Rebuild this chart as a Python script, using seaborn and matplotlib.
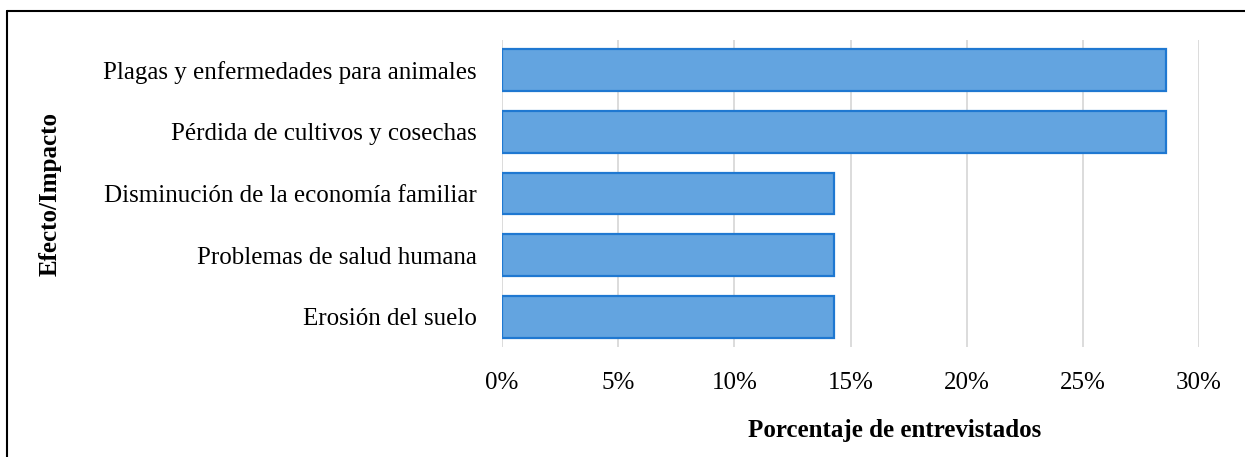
import matplotlib
matplotlib.use("Agg")
import matplotlib.pyplot as plt
import matplotlib.ticker as mticker
from matplotlib.lines import Line2D
import seaborn as sns
import pandas as pd

categories = [
    "Plagas y enfermedades para animales",
    "Pérdida de cultivos y cosechas",
    "Disminución de la economía familiar",
    "Problemas de salud humana",
    "Erosión del suelo",
]
percentages = [28.57, 28.57, 14.29, 14.29, 14.29]
x_ticks = [0, 5, 10, 15, 20, 25, 30]

df = pd.DataFrame({"Efecto": categories, "Porcentaje": percentages})

sns.set_theme(style="white")
plt.rcParams["font.family"] = ["Liberation Serif", "DejaVu Serif"]

fig = plt.figure(figsize=(12.45, 4.57), dpi=100)
W, H = 1245, 457
ax = fig.add_axes([502 / W, 1 - 347 / H, (1199 - 502) / W, (347 - 40) / H])

sns.barplot(data=df, x="Porcentaje", y="Efecto", orient="h", ax=ax,
            color="#63A4E0", edgecolor="#1F78D1", linewidth=1.6,
            width=0.68, saturation=1)

ax.set_xlim(0, 30)
ax.set_ylim(4.49, -0.49)
ax.set_xticks(x_ticks)
ax.xaxis.set_major_formatter(mticker.FuncFormatter(lambda v, _: f"{v:.0f}%"))
ax.grid(axis="x", color="#D9D9D9", linewidth=1.3)
ax.set_axisbelow(True)
for s in ax.spines.values():
    s.set_visible(False)
ax.tick_params(axis="both", length=0, labelsize=18, colors="black")
ax.tick_params(axis="y", pad=18)
ax.tick_params(axis="x", pad=18)

ax.set_xlabel("Porcentaje de entrevistados", fontsize=18, fontweight="bold",
              color="black")
ax.xaxis.set_label_coords(0.564, -0.235)
ax.set_ylabel("Efecto/Impacto", fontsize=18, fontweight="bold", color="black")
ax.yaxis.set_label_coords(-0.632, 0.5)

# outer frame (left and top edges)
fig.add_artist(Line2D([7 / W, 7 / W], [0, 1 - 11 / H], transform=fig.transFigure,
                      color="black", linewidth=1.5))
fig.add_artist(Line2D([7 / W, 1], [1 - 11 / H, 1 - 11 / H], transform=fig.transFigure,
                      color="black", linewidth=1.5))

fig.savefig("out.png", dpi=100, facecolor="white")
